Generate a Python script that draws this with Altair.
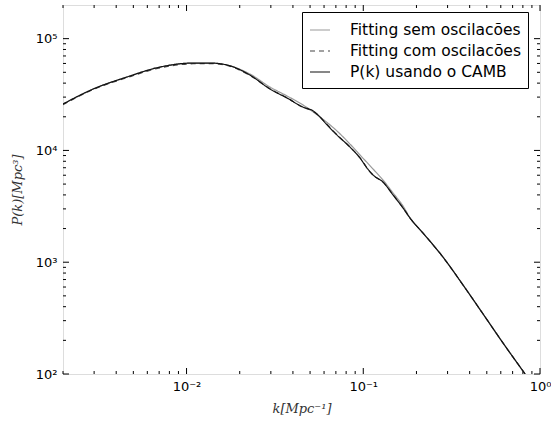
import altair as alt
import pandas as pd

# ---- data ----
k_camb = [0.0020, 0.00296, 0.00460, 0.00708, 0.01088, 0.01358, 0.01695, 0.02287,
          0.02967, 0.03706, 0.04562, 0.05200, 0.05693, 0.06240, 0.07111, 0.08417,
          0.09590, 0.1050, 0.1136, 0.1294, 0.1475, 0.1680, 0.1840, 0.2180,
          0.2827, 0.3670, 0.4765, 0.6182, 0.8239]
p_camb = [26000, 35400, 45400, 55700, 60500, 60500, 58100, 47200,
          35400, 29400, 24400, 22600, 19900, 16900, 13700, 10700,
          8550, 6960, 6030, 5210, 3990, 3050, 2480, 1820,
          1110, 625, 344, 189, 100]

k_osc = k_camb
p_osc = [25700, 35000, 44800, 54800, 59600, 59800, 57500, 46800,
         35600, 29600, 24300, 22400, 19900, 17100, 13800, 10700,
         8600, 7000, 6000, 5200, 4000, 3060, 2480, 1820,
         1110, 625, 344, 189, 100]

k_smooth = [0.0020, 0.00296, 0.00460, 0.00708, 0.01088, 0.01358, 0.01695, 0.02287,
            0.02967, 0.03706, 0.04562, 0.05693, 0.07111, 0.08417, 0.09590, 0.1136,
            0.1294, 0.1475, 0.1680, 0.1840, 0.2180, 0.2827, 0.3670, 0.4765,
            0.6182, 0.8239]
p_smooth = [26000, 35400, 45400, 55700, 60500, 60500, 58100, 48200,
            36900, 30700, 25500, 19900, 14900, 11400, 9100, 6820,
            5430, 4160, 3180, 2490, 1820, 1110, 625, 344,
            189, 100]

series_names = ["Fitting sem oscilacões", "Fitting com oscilacões", "P(k) usando o CAMB"]
series_colors = ["#9a9a9a", "#444444", "#111111"]
series_dash = [[1, 0], [5, 4], [1, 0]]

major_x = [0.01, 0.1, 1]
minor_x = [0.002, 0.003, 0.004, 0.005, 0.006, 0.007, 0.008, 0.009,
           0.02, 0.03, 0.04, 0.05, 0.06, 0.07, 0.08, 0.09,
           0.2, 0.3, 0.4, 0.5, 0.6, 0.7, 0.8, 0.9]
major_y = [100, 1000, 10000, 100000]
minor_y = [200, 300, 400, 500, 600, 700, 800, 900,
           2000, 3000, 4000, 5000, 6000, 7000, 8000, 9000,
           20000, 30000, 40000, 50000, 60000, 70000, 80000, 90000]

# ---- tables ----
rows = []
for name, ks, ps in [(series_names[0], k_smooth, p_smooth),
                     (series_names[1], k_osc, p_osc),
                     (series_names[2], k_camb, p_camb)]:
    for i, (k, p) in enumerate(zip(ks, ps)):
        rows.append({"series": name, "k": k, "P": p, "i": i})
df = pd.DataFrame(rows)

W, H = 477, 369

x_scale = alt.Scale(type="log", domain=[0.002, 1], nice=False)
y_scale = alt.Scale(type="log", domain=[100, 200000], nice=False)

x_axis = alt.Axis(
    values=major_x,
    labelExpr="datum.value < 0.05 ? '10⁻²' : datum.value < 0.5 ? '10⁻¹' : '10⁰'",
    ticks=False, domain=False, grid=False, labelOverlap=False, labelFlush=False,
    labelFont="DejaVu Sans", labelFontSize=13, labelColor="black", labelPadding=6,
    title="k[Mpc⁻¹]", titleFont="DejaVu Serif", titleFontStyle="italic",
    titleFontWeight="normal", titleFontSize=13, titleColor="#333333",
    titleY=34, titleBaseline="middle",
)
y_axis = alt.Axis(
    values=major_y,
    labelExpr="datum.value < 500 ? '10²' : datum.value < 5000 ? '10³' : datum.value < 50000 ? '10⁴' : '10⁵'",
    ticks=False, domain=False, grid=False, labelOverlap=False, labelFlush=False,
    labelFont="DejaVu Sans", labelFontSize=13, labelColor="black", labelPadding=6,
    title="P(k)[Mpc³]", titleFont="DejaVu Serif", titleFontStyle="italic",
    titleFontWeight="normal", titleFontSize=13, titleColor="#333333",
    titleX=-46, titleY=H / 2, titleAngle=270, titleAlign="center", titleBaseline="middle",
)

x_enc = alt.X("k:Q", scale=x_scale, axis=x_axis)
y_enc = alt.Y("P:Q", scale=y_scale, axis=y_axis)

legend = alt.Legend(
    title=None, orient="none", legendX=239, legendY=7, direction="vertical",
    symbolType="stroke", symbolSize=400, symbolStrokeWidth=1.2,
    labelFont="DejaVu Sans", labelFontSize=15.5, labelColor="black", labelOffset=19,
    labelLimit=400, rowPadding=1, padding=7,
    strokeColor="black", fillColor="white", cornerRadius=0,
)

color_enc = alt.Color("series:N", scale=alt.Scale(domain=series_names, range=series_colors), legend=legend)
dash_enc = alt.StrokeDash("series:N", scale=alt.Scale(domain=series_names, range=series_dash), legend=legend)

base = alt.Chart(df).mark_line(clip=True, strokeWidth=1.2, interpolate="monotone").encode(
    x=x_enc, y=y_enc, color=color_enc, strokeDash=dash_enc, order="i:Q"
)
line_layers = [base.transform_filter(alt.datum.series == s) for s in series_names]

def xticks(vals, length):
    d = pd.DataFrame({"k": vals})
    bottom = alt.Chart(d).mark_rule(color="black", strokeWidth=1).encode(
        x=x_enc, y=alt.value(H), y2=alt.value(H - length))
    top = alt.Chart(d).mark_rule(color="black", strokeWidth=1).encode(
        x=x_enc, y=alt.value(0), y2=alt.value(length))
    return [bottom, top]

def yticks(vals, length):
    d = pd.DataFrame({"P": vals})
    left = alt.Chart(d).mark_rule(color="black", strokeWidth=1).encode(
        y=y_enc, x=alt.value(0), x2=alt.value(length))
    right = alt.Chart(d).mark_rule(color="black", strokeWidth=1).encode(
        y=y_enc, x=alt.value(W), x2=alt.value(W - length))
    return [left, right]

tick_layers = xticks(major_x, 6) + xticks(minor_x, 3) + yticks(major_y, 6) + yticks(minor_y, 3)

chart = alt.layer(*tick_layers, *line_layers).properties(
    width=W, height=H,
    autosize=alt.AutoSizeParams(type="none"),
    padding={"left": 63, "top": 5, "right": 11, "bottom": 47},
).configure_view(stroke="black", strokeWidth=1.2).configure(background="white")

chart.save("out.html", embed_options={"renderer": "svg", "actions": False})
